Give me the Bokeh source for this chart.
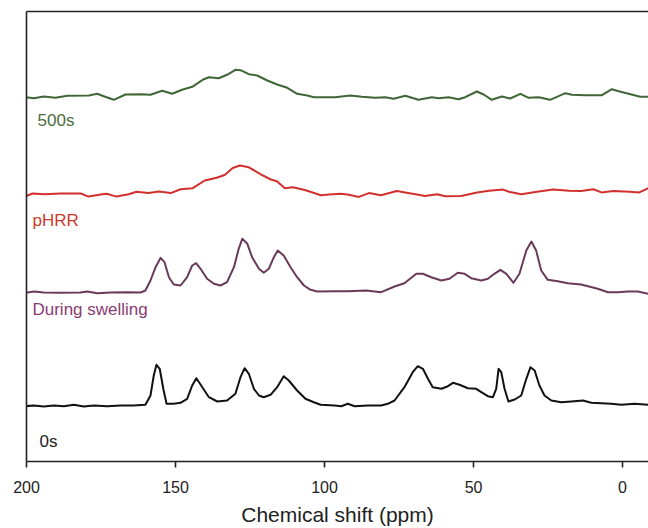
import numpy as np
from bokeh.plotting import figure
from bokeh.models import Range1d, LinearAxis, FixedTicker, Label
from bokeh.embed import file_html
from bokeh.resources import INLINE

# ---------------- data ----------------
# chemical shift (ppm) and relative intensity (arbitrary units) per spectrum
ppm_500s = [200.5, 197.5, 194.2, 190.3, 186.3, 179.1, 176.3, 174.1, 170.7, 166.8,
            161.7, 158.4, 154.5, 151.1, 147.8, 144.4, 140.5, 138.8, 135.5, 132.7,
            129.9, 128.2, 125.4, 122.6, 119.2, 115.9, 112.5, 109.2, 105.8, 103.6,
            98.0, 96.4, 91.4, 87.5, 83.0, 79.6, 76.8, 72.9, 68.5, 64.0,
            61.7, 58.4, 55.0, 52.8, 48.9, 46.6, 43.9, 40.5, 37.7, 34.3,
            31.5, 28.2, 24.3, 19.2, 17.0, 12.5, 6.9, 3.6, 1.3, -2.0,
            -5.9, -8.7]
int_500s = [0.3, -0.7, 1.0, -0.3, 1.7, 2.0, 3.7, 1.3, -2.3, 3.0,
            3.3, 2.7, 6.7, 3.7, 7.7, 10.7, 18.3, 20.3, 19.3, 22.7,
            27.7, 27.3, 23.3, 22.0, 17.0, 13.0, 9.7, 3.7, 2.0, 0.3,
            0.3, 0.3, 2.0, 0.7, -0.3, 0.3, -1.3, 1.7, -2.3, 0.3,
            -0.7, 0.3, -1.7, 0.3, 6.0, 3.0, -2.3, 1.0, -1.0, 3.7,
            -0.3, 0.3, -2.3, 4.3, 2.7, 2.3, 2.3, 8.3, 6.3, 3.7,
            0.7, 0.7]

ppm_phrr = [200.5, 198.0, 194.0, 188.6, 181.8, 179.2, 175.1, 173.1, 169.8, 165.7,
            163.1, 159.0, 155.6, 151.6, 148.3, 144.2, 140.2, 136.2, 133.5, 130.8,
            128.4, 125.4, 121.4, 118.0, 116.0, 113.3, 110.6, 106.6, 101.2, 98.5,
            94.5, 91.8, 88.5, 85.1, 81.1, 75.7, 73.0, 69.0, 66.3, 62.2,
            59.6, 54.2, 48.8, 44.8, 40.1, 38.1, 34.0, 28.7, 23.3, 17.9,
            13.9, 9.8, 7.1, 3.1, -2.3, -5.6, -8.7]
int_phrr = [-2.0, 1.0, 0.3, 1.0, 1.0, -2.1, 0.0, 0.7, -2.1, 0.3,
            2.8, 1.4, 3.1, 1.4, 5.2, 6.3, 14.0, 16.8, 19.5, 26.5,
            29.0, 27.2, 20.2, 15.0, 13.3, 6.3, 7.3, 4.5, -0.7, 0.0,
            0.7, -0.3, -2.4, 1.4, -0.7, 3.5, 2.1, 0.0, -1.4, 0.3,
            -1.7, -1.4, 2.1, 3.8, 4.9, 2.8, 0.3, 2.8, 4.9, 3.8,
            3.5, 5.2, 2.1, 3.5, 2.8, 2.1, 6.3]

ppm_swell = [200.5, 197.5, 194.2, 188.6, 181.9, 179.6, 176.3, 171.8, 166.2, 161.7,
             160.1, 158.4, 156.7, 155.0, 153.7, 152.2, 150.6, 148.3, 146.1, 144.4,
             143.1, 141.6, 139.4, 137.1, 134.9, 132.7, 130.4, 128.8, 127.6, 125.9,
             124.3, 122.0, 120.4, 118.7, 117.0, 115.7, 113.7, 111.4, 109.2, 106.9,
             104.7, 102.4, 96.6, 92.2, 86.0, 81.0, 76.5, 73.2, 69.2, 67.0,
             64.2, 60.8, 58.1, 55.3, 53.0, 50.8, 47.4, 45.2, 43.0, 41.0,
             39.0, 36.6, 34.6, 32.3, 30.6, 29.0, 27.3, 25.1, 21.7, 18.4,
             13.9, 8.3, 4.9, 1.6, -1.8, -5.1, -8.7]
int_swell = [-0.3, 1.0, 0.0, -0.3, 0.0, 1.0, -0.7, 0.0, 0.3, 0.0,
             2.0, 12.0, 25.3, 34.7, 30.3, 15.3, 8.0, 7.0, 15.3, 27.0,
             29.3, 23.7, 13.7, 8.7, 7.0, 10.3, 25.3, 43.7, 53.7, 48.7,
             35.3, 23.7, 19.7, 23.7, 35.3, 42.0, 37.0, 25.3, 15.3, 7.0,
             2.7, 1.0, 1.3, 1.3, 2.0, 0.3, 6.0, 9.3, 18.7, 18.7,
             15.3, 12.0, 13.7, 19.7, 18.7, 14.3, 12.0, 13.7, 18.7, 22.7,
             18.7, 9.7, 18.7, 42.0, 51.0, 42.0, 22.0, 12.7, 11.3, 9.3,
             8.0, 3.7, 0.3, 0.3, 1.0, 1.0, -1.3]

ppm_0s = [200.5, 197.5, 194.2, 190.8, 187.5, 184.1, 180.8, 177.4, 172.9, 168.5,
          164.0, 160.1, 158.4, 157.3, 156.4, 155.3, 154.1, 153.0, 150.6, 148.3,
          146.1, 144.4, 143.0, 141.0, 138.8, 136.0, 132.7, 129.9, 128.2, 126.8,
          125.4, 123.7, 122.0, 120.4, 118.1, 115.9, 113.7, 112.0, 109.2, 106.4,
          103.6, 101.3, 96.6, 94.4, 92.2, 89.9, 85.5, 81.0, 78.8, 76.5,
          73.2, 70.4, 68.7, 67.0, 65.3, 63.7, 60.8, 58.6, 56.9, 54.7,
          51.9, 49.1, 47.4, 45.2, 43.5, 42.4, 41.6, 40.7, 39.6, 38.3,
          36.2, 34.0, 32.3, 30.9, 29.5, 27.9, 26.2, 23.9, 20.6, 17.2,
          13.3, 10.5, 7.1, 3.8, 0.4, -4.0, -8.7]
int_0s = [-0.7, 0.0, -1.0, 0.0, -0.7, 0.7, -1.0, 0.0, -0.7, 0.0,
          0.0, 0.7, 10.0, 30.0, 40.7, 36.7, 16.7, 1.7, 1.7, 2.7,
          6.7, 20.0, 27.3, 18.3, 8.3, 4.0, 5.0, 11.7, 28.3, 37.3,
          31.7, 16.7, 10.0, 8.3, 10.7, 18.3, 29.3, 25.0, 15.0, 6.7,
          3.3, 0.7, 0.0, -0.7, 1.7, -0.7, 0.0, 0.0, 1.7, 5.0,
          18.3, 33.3, 39.3, 36.7, 26.7, 18.3, 16.7, 19.3, 22.7, 20.7,
          17.3, 16.7, 13.3, 9.3, 8.3, 16.7, 36.7, 33.3, 16.7, 4.0,
          6.0, 10.0, 26.7, 38.3, 35.0, 20.0, 10.0, 5.0, 3.3, 4.0,
          5.0, 2.7, 2.3, 1.7, 0.7, 1.7, 0.7]

labels = ["500s", "pHRR", "During swelling", "0s"]
x_ticks = [200, 150, 100, 50, 0]
x_title = "Chemical shift (ppm)"

# ---------------- styling / layout ----------------
FONT = "Liberation Sans"
line_colors = ["#3f6636", "#d1302c", "#6a3a5a", "#111111"]
label_colors = ["#4b6b3c", "#cc3a2a", "#8b3b72", "#222222"]
offsets = [364, 267, 169, 56]          # vertical stacking of the spectra
label_x = [196.3, 198.0, 198.0, 195.6]  # ppm position of each caption
label_y = [341, 241, 152, 20]

series = [(ppm_500s, int_500s), (ppm_phrr, int_phrr),
          (ppm_swell, int_swell), (ppm_0s, int_0s)]

p = figure(width=648, height=528, output_backend="svg", toolbar_location=None,
           x_range=Range1d(200, -8.7), y_range=Range1d(0, 450),
           min_border_left=26, min_border_right=0, min_border_top=11,
           min_border_bottom=67)
p.grid.visible = False
p.outline_line_color = None
p.background_fill_color = "white"
p.border_fill_color = "white"

for (xs, ys), off, col in zip(series, offsets, line_colors):
    p.line(np.array(xs), np.array(ys) + off, line_color=col, line_width=2.0,
           line_join="round")

for txt, lx, ly, col in zip(labels, label_x, label_y, label_colors):
    p.add_layout(Label(x=lx, y=ly, text=txt, text_color=col,
                       text_font=FONT, text_font_size="17px",
                       text_baseline="middle", text_align="left"))

# bottom axis
xa = p.xaxis[0]
xa.ticker = FixedTicker(ticks=x_ticks)
xa.axis_label = x_title
xa.axis_label_text_font = FONT
xa.axis_label_text_font_size = "21px"
xa.axis_label_text_font_style = "normal"
xa.axis_label_text_color = "#222222"
xa.axis_label_standoff = 7
xa.major_label_text_font = FONT
xa.major_label_text_font_size = "16px"
xa.major_label_text_color = "#222222"
xa.major_label_standoff = 13
xa.major_tick_out = 6
xa.major_tick_in = 0
xa.minor_tick_out = 0
xa.minor_tick_in = 0
xa.axis_line_width = 1.6
xa.axis_line_color = "#222222"
xa.major_tick_line_width = 1.6
xa.major_tick_line_color = "#222222"

# left axis: line only
ya = p.yaxis[0]
ya.ticker = FixedTicker(ticks=[])
ya.major_label_text_font_size = "0px"
ya.major_tick_out = 0
ya.minor_tick_out = 0
ya.axis_line_width = 1.6
ya.axis_line_color = "#222222"

# top border as a bare axis line
top = LinearAxis(ticker=FixedTicker(ticks=[]), major_label_text_font_size="0px",
                 major_tick_out=0, minor_tick_out=0, axis_line_width=1.6,
                 axis_line_color="#222222")
p.add_layout(top, "above")

open("out.html", "w").write(file_html(p, INLINE))
